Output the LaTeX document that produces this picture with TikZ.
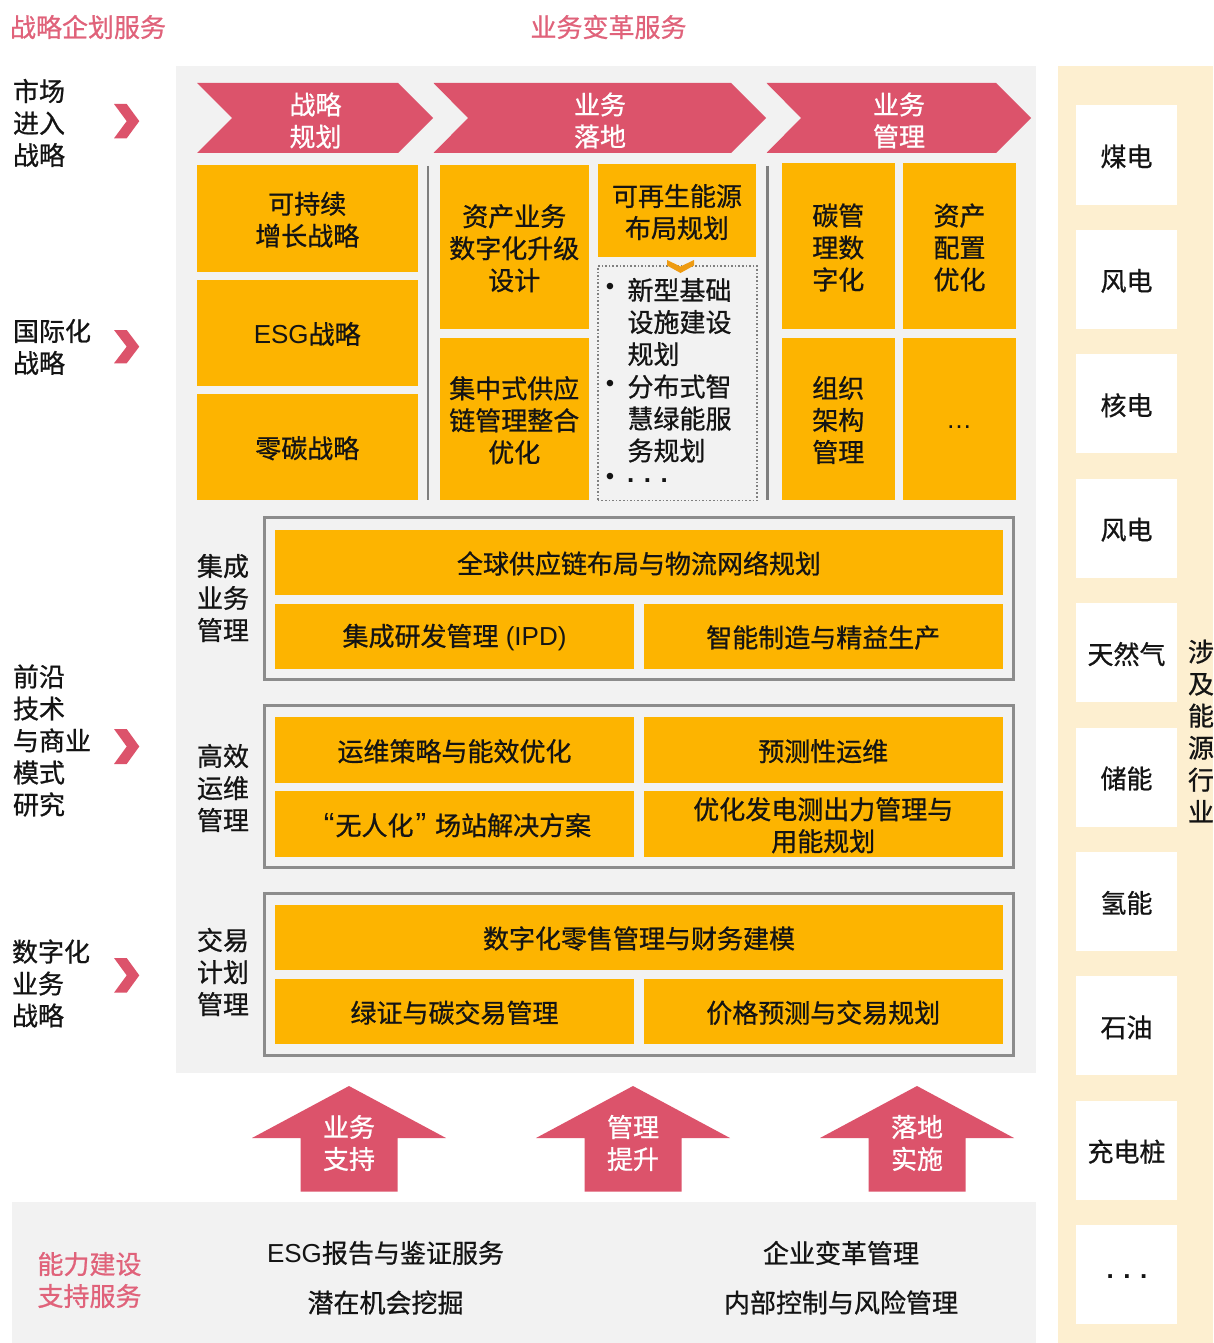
\documentclass[tikz,border=0pt]{standalone}
\usepackage{fontspec}
\setmainfont{Noto Sans CJK SC}[FakeBold=0.8]
\newfontfamily\lat{Liberation Sans}
\definecolor{pk}{HTML}{DC536B}
\definecolor{pkt}{HTML}{E0627A}
\definecolor{og}{HTML}{FDB400}
\definecolor{ogd}{HTML}{EE9B12}
\definecolor{bgc}{HTML}{F2F2F2}
\definecolor{crm}{HTML}{FDEFD0}
\definecolor{bdc}{HTML}{8C8C8C}
\definecolor{sepc}{HTML}{7F7F7F}
\definecolor{tx}{HTML}{141414}
\newcommand\fs{\fontsize{26}{32}\selectfont}
\newcommand\bx[7][ob]{\node[#1, minimum width={#4-#2}, minimum height={#5-#3}] (#6) at ({(#2+#4)/2},{(#3+#5)/2}) {};
  \node[txtbase] (#6t) at ([yshift=-1.5pt]#6.center) {#7};}
\newcommand\chv[2]{\fill[pk] (114,#1) -- (126.7,#1) -- (139.3,{(#1+#2)/2}) -- (126.7,#2) -- (114,#2) -- (126.7,{(#1+#2)/2}) -- cycle;}
\newcommand\uparr[1]{\fill[pk] ({#1-97},1138) -- (#1,1086) -- ({#1+97},1138) -- ({#1+48.5},1138) -- ({#1+48.5},1191.5) -- ({#1-48.5},1191.5) -- ({#1-48.5},1138) -- cycle;}
\tikzset{
 txtbase/.style={inner sep=0pt, outer sep=0pt, align=center, font=\fs, text=tx},
 ob/.style={txtbase, fill=og},
 wb/.style={txtbase, fill=white},
 lbl/.style={txtbase, align=left, anchor=west},
 ttl/.style={txtbase, text=pkt},
 wt/.style={txtbase, text=white},
 grp/.style={draw=bdc, line width=3pt, fill=bgc, inner sep=0pt, outer sep=0pt},
 sepline/.style={draw=sepc, line width=2.5pt},
 dotbox/.style={draw=sepc, dotted, line width=1.6pt, fill=bgc, inner sep=0pt, outer sep=0pt},
 bul/.style={txtbase, font={\fontsize{24}{26}\selectfont\lat}},
 dottxt/.style={txtbase, font={\fs\lat}},
 bdottxt/.style={txtbase, font={\fs\lat\bfseries}},
}
\begin{document}
\begin{tikzpicture}[x=1pt,y=-1pt]
\useasboundingbox (0,0) rectangle (1213,1343);
\fill[white] (0,0) rectangle (1213,1343);
\fill[bgc] (176,66) rectangle (1036,1073);
\fill[bgc] (12,1202) rectangle (1036,1343);
\fill[crm] (1058,66) rectangle (1213,1343);

% titles
\node[ttl, anchor=west] (t1) at (10,27) {战略企划服务};
\node[ttl] (t2) at (608.5,27) {业务变革服务};

% left labels
\node[lbl] (l1) at (13,123) {市场\\进入\\战略};
\node[lbl] (l2) at (13,347) {国际化\\战略};
\node[lbl] (l3) at (13,740.5) {前沿\\技术\\与商业\\模式\\研究};
\node[lbl] (l4) at (12,983.5) {数字化\\业务\\战略};
\chv{104}{138.3}
\chv{330}{363.3}
\chv{729}{764}
\chv{958}{992.7}

% top arrows
\fill[pk] (197,83) -- (398,83) -- (433,118) -- (398,153) -- (197,153) -- (232,118) -- cycle;
\node[wt] (h1) at (315.5,120.5) {战略\\规划};
\fill[pk] (433.5,83) -- (731,83) -- (766,118) -- (731,153) -- (433.5,153) -- (468,118) -- cycle;
\node[wt] (h2) at (600,120.5) {业务\\落地};
\fill[pk] (766.5,83) -- (996,83) -- (1031,118) -- (996,153) -- (766.5,153) -- (801,118) -- cycle;
\node[wt] (h3) at (899,120.5) {业务\\管理};

% separators
\draw[sepline] (428,166) -- (428,500);
\draw[sepline] (767.5,166) -- (767.5,500);

% column 1
\bx{197}{165}{417.5}{271.5}{c11}{可持续\\增长战略}
\bx{197}{279.5}{417.5}{385.5}{c12}{{\lat ESG}战略}
\bx{197}{393.5}{417.5}{500}{c13}{零碳战略}
% column 2
\bx{440}{165}{588.5}{328.5}{c21}{资产业务\\数字化升级\\设计}
\bx{440}{337.5}{588.5}{500}{c22}{集中式供应\\链管理整合\\优化}
% column 3
\bx{598}{164}{756}{257}{c31}{可再生能源\\布局规划}
\node[dotbox, minimum width=159, minimum height=234.5] (c32) at (677.3,383.3) {};
\fill[ogd] (667,260) -- (680.5,266.5) -- (694,260) -- (694,265.5) -- (680.5,273) -- (667,265.5) -- cycle;
\node[bul] (b1) at (610,289) {•};
\node[lbl] (b1t) at (627.5,322) {新型基础\\设施建设\\规划};
\node[bul] (b2) at (610,386) {•};
\node[lbl] (b2t) at (627.5,418.5) {分布式智\\慧绿能服\\务规划};
\node[bul] (b3) at (610,479) {•};
\node[bdottxt, anchor=west] (b3t) at (627,481) {. . .};
% columns 4/5
\bx{782}{163.5}{894.5}{328.5}{c41}{碳管\\理数\\字化}
\bx{903}{163.5}{1016}{328.5}{c51}{资产\\配置\\优化}
\bx{782}{337.5}{894.5}{499.5}{c42}{组织\\架构\\管理}
\node[ob, minimum width=113, minimum height=162] (c52) at (959.5,418.5) {};
\node[dottxt] (c52t) at (959,427) {…};

% groups
\node[grp, minimum width=749, minimum height=162] (g1) at (639,598.5) {};
\node[grp, minimum width=749, minimum height=162] (g2) at (639,786.5) {};
\node[grp, minimum width=749, minimum height=162] (g3) at (639,974) {};
\node[lbl] (gl1) at (197,598) {集成\\业务\\管理};
\node[lbl] (gl2) at (197,788) {高效\\运维\\管理};
\node[lbl] (gl3) at (197,972) {交易\\计划\\管理};

\bx{275}{529.5}{1003}{594.5}{g1a}{全球供应链布局与物流网络规划}
\bx{275}{603.5}{634}{668.5}{g1b}{集成研发管理{\lat{} (IPD)}}
\bx{643.5}{603.5}{1003}{668.5}{g1c}{智能制造与精益生产}

\bx{275}{717}{634}{782.5}{g2a}{运维策略与能效优化}
\bx{643.5}{717}{1003}{782.5}{g2b}{预测性运维}
\bx{275}{791}{634}{856.5}{g2c}{\hspace{6pt}{\fontsize{32}{32}\selectfont\lat “}\kern1pt 无人化\kern2pt{\fontsize{32}{32}\selectfont\lat ”}\kern9pt 场站解决方案}
\bx{643.5}{791}{1003}{856.5}{g2d}{优化发电测出力管理与\\用能规划}

\bx{275}{904.5}{1003}{969.5}{g3a}{数字化零售管理与财务建模}
\bx{275}{978.5}{634}{1044}{g3b}{绿证与碳交易管理}
\bx{643.5}{978.5}{1003}{1044}{g3c}{价格预测与交易规划}

% up arrows
\uparr{349}
\uparr{633}
\uparr{917}
\node[wt] (u1) at (349,1143) {业务\\支持};
\node[wt] (u2) at (633,1143) {管理\\提升};
\node[wt] (u3) at (917,1143) {落地\\实施};

% bottom panel
\node[ttl, align=left, anchor=west] (bl) at (37.5,1280) {能力建设\\支持服务};
\node[txtbase] (s1) at (385.5,1253) {{\lat ESG}报告与鉴证服务};
\node[txtbase] (s2) at (385.5,1302.5) {潜在机会挖掘};
\node[txtbase] (s3) at (841,1253) {企业变革管理};
\node[txtbase] (s4) at (841,1302.5) {内部控制与风险管理};

% right column
\foreach \i/\t in {0/煤电,1/风电,2/核电,3/风电,4/天然气,5/储能,6/氢能,7/石油,8/充电桩} {
  \pgfmathsetmacro\yc{105.5+124.4*\i+49.5}
  \node[wb, minimum width=101, minimum height=99] (e\i) at (1126.5,\yc) {};
  \node[txtbase] (e\i t) at ([yshift=-1.5pt]e\i.center) {\t};
}
\node[wb, minimum width=101, minimum height=99] (e9) at (1126.5,1274.1) {};
\node[bdottxt] (e9t) at (1127,1277) {. . .};
\node[txtbase] (v) at (1201,731) {涉\\及\\能\\源\\行\\业};
\end{tikzpicture}
\end{document}
